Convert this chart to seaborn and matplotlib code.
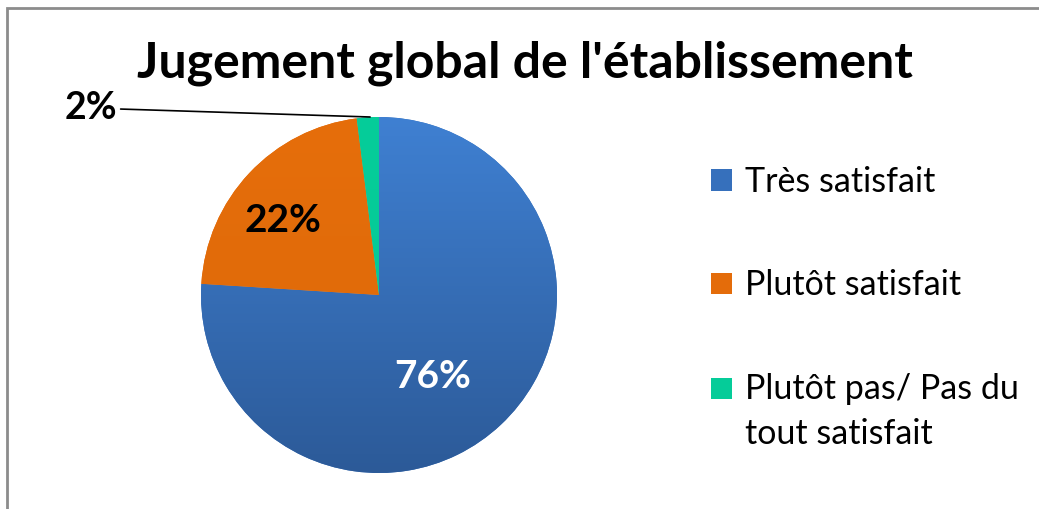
import matplotlib
matplotlib.use("Agg")
import matplotlib.pyplot as plt
import seaborn as sns
import numpy as np
from matplotlib.patches import Rectangle
from matplotlib.colors import LinearSegmentedColormap
from matplotlib.legend_handler import HandlerPatch

categories = ["Très satisfait", "Plutôt satisfait", "Plutôt pas/ Pas du\ntout satisfait"]
values = [76, 22, 2]
colors = ["#3670BC", "#E46C0A", "#05CC99"]
# dégradé vertical (haut, bas) de chaque part
shades = [("#3F80D2", "#2C5A98"), ("#E66E0B", "#DC6808"), ("#06CD9A", "#03C894")]
title = "Jugement global de l'établissement"

sns.set_theme(style="white")
plt.rcParams["font.family"] = ["Lato", "DejaVu Sans"]
plt.rcParams["text.color"] = "black"

fig = plt.figure(figsize=(10.39, 5.09), dpi=100)

# cadre gris (coupé à droite et en bas)
fig.patches.append(Rectangle((7 / 1039, -0.1), 1.2, 1 - 8 / 509 + 0.1,
                             transform=fig.transFigure, fill=False,
                             edgecolor="#8c8c8c", linewidth=2))

cx, cy, r = 379, 295, 178
ax = fig.add_axes([(cx - r) / 1039, (509 - cy - r) / 509, 2 * r / 1039, 2 * r / 509])

wedges, texts, autotexts = ax.pie(values, colors=colors, startangle=90, counterclock=False,
                                  autopct="%d%%", pctdistance=0.66,
                                  wedgeprops=dict(linewidth=0),
                                  textprops=dict(fontsize=28, fontweight="bold"))

grad = np.linspace(0, 1, 256).reshape(-1, 1)
for w, (top, bottom) in zip(wedges, shades):
    cmap = LinearSegmentedColormap.from_list("g", [top, bottom])
    im = ax.imshow(grad, cmap=cmap, extent=[-1, 1, -1, 1], aspect="auto", zorder=1.5)
    im.set_clip_path(w)

ax.set_xlim(-1, 1)
ax.set_ylim(-1, 1)
ax.set_aspect("equal")
ax.axis("off")

autotexts[0].set_color("white")
autotexts[0].set_position((0.30, -0.46))
autotexts[1].set_color("black")
autotexts[1].set_position((-0.54, 0.42))
autotexts[2].set_visible(False)
for t in autotexts:
    t.set_zorder(3)

# étiquette extérieure 2%
ax.annotate(f"{values[2]}%", xy=(-0.05, 1.0), xytext=(-1.47, 1.05),
            ha="right", va="center", fontsize=27, fontweight="bold",
            arrowprops=dict(arrowstyle="-", color="black", lw=1.2,
                            shrinkA=0, shrinkB=0),
            annotation_clip=False)

fig.text(0.505, 0.875, title, ha="center", va="center", fontsize=36, fontweight="bold")


# carré aligné sur la première ligne pour le libellé sur deux lignes
def top_square(legend, orig_handle, xdescent, ydescent, width, height, fontsize):
    return Rectangle((-xdescent, -ydescent + 0.7 * fontsize), width, height)


leg = fig.legend(wedges, categories, loc="center left", bbox_to_anchor=(0.655, 0.395),
                 frameon=False, fontsize=24.5, handlelength=0.6, handleheight=0.6,
                 handletextpad=0.4, labelspacing=2.1,
                 handler_map={wedges[2]: HandlerPatch(patch_func=top_square)})
for t in leg.get_texts():
    t.set_linespacing(1.5)

fig.savefig("out.png", dpi=100)
